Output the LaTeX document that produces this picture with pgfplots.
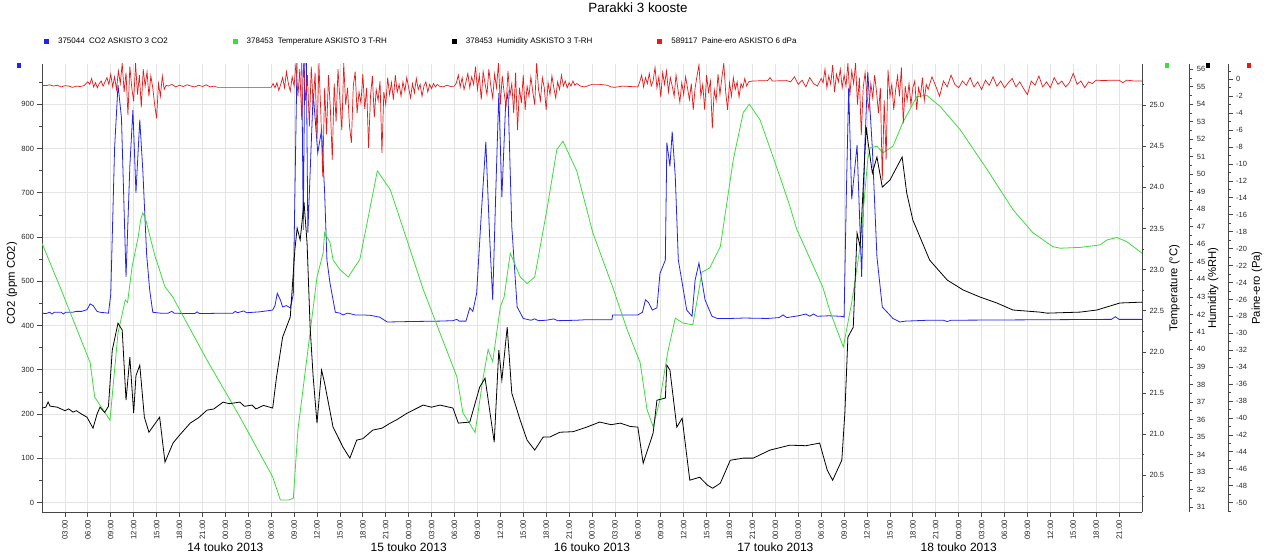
\documentclass[border=0pt]{standalone}
\usepackage{fontspec}
\setmainfont{Liberation Sans}
\usepackage{pgfplots}
\pgfplotsset{compat=1.18}
\definecolor{co2col}{RGB}{35,35,235}
\definecolor{tcol}{RGB}{60,220,60}
\definecolor{hcol}{RGB}{0,0,0}
\definecolor{pcol}{RGB}{232,25,25}
\definecolor{gridc}{RGB}{228,228,228}
\definecolor{axc}{RGB}{70,70,70}
\newcommand\tickfont{\fontsize{7.5bp}{8bp}\selectfont}
\newcommand\xtickfont{\fontsize{7.8bp}{8bp}\selectfont}
\newcommand\labfont{\fontsize{11.3bp}{13bp}\selectfont}
\newcommand\datefont{\fontsize{12bp}{14bp}\selectfont}
\newcommand\titlefont{\fontsize{13.4bp}{15bp}\selectfont}
\newcommand\legfont{\fontsize{8bp}{9bp}\selectfont}
\pgfplotsset{
  base/.style={scale only axis, width=1100bp, height=448bp, at={(0,0)}, anchor=south west, xmin=0, xmax=144,
    /pgf/number format/assume math mode=true},
  ryax/.style={axis line style={axc,-,line width=0.8bp}, tick align=outside, major tick length=4bp, minor tick length=2.4bp,
    tick style={axc,line width=0.7bp}, yticklabel style={font=\tickfont, text=black!85}},
}
\begin{document}
\begin{tikzpicture}
% ---------------- CO2 (main axis) ----------------
\begin{axis}[base, ymin=-21.3, ymax=991, clip mode=individual,
  axis x line*=bottom, axis y line*=left, axis line style={axc,-,line width=0.8bp},
  xtick={3,6,...,141},
  xticklabels={03:00,06:00,09:00,12:00,15:00,18:00,21:00,00:00,03:00,06:00,09:00,12:00,15:00,18:00,21:00,00:00,03:00,06:00,09:00,12:00,15:00,18:00,21:00,00:00,03:00,06:00,09:00,12:00,15:00,18:00,21:00,00:00,03:00,06:00,09:00,12:00,15:00,18:00,21:00,00:00,03:00,06:00,09:00,12:00,15:00,18:00,21:00},
  xticklabel style={rotate=90, anchor=east, font=\xtickfont, text=black!85},
  ytick={0,100,200,300,400,500,600,700,800,900},
  minor ytick={50,150,250,350,450,550,650,750,850,950},
  tick align=outside, major tick length=4.5bp, minor tick length=2.5bp,
  tick style={axc,line width=0.7bp},
  yticklabel style={font=\tickfont, text=black!85},
  xmajorgrids, ymajorgrids, grid style={gridc,line width=0.8bp},
  ylabel={CO2 (ppm CO2)}, ylabel style={at={(axis description cs:-0.0273,0.511)}, anchor=center, font=\labfont},
  title={Parakki 3 kooste}, title style={at={(axis description cs:0.5418,1.1016)}, anchor=base, font=\titlefont},
  legend columns=4,
  legend style={at={(axis description cs:0.0018,1.0513)}, anchor=west, draw=none, fill=none,
    inner xsep=0pt, inner ysep=0pt, font=\legfont, nodes={inner sep=0pt},
    /tikz/every odd column/.append style={column sep=9.5bp},
    /tikz/every even column/.append style={column sep=65bp}},
]
\addplot[co2col, line width=0.8bp, forget plot] coordinates {
(0,428)(0.5,427)(1,430)(1.3,426)(1.6,430)(2.5,430)(2.8,426)(3.1,430)(4,430)(4.5,432)(5.2,432)(5.9,436)(6.3,449)(6.7,445)(7.2,432)(7.6,430)(8.2,429)(8.7,428)
(9.0,470)(9.5,800)(9.95,944)(10.4,870)(11.0,510)(11.5,760)(11.9,887)(12.3,700)(12.8,865)(13.2,750)(13.7,560)(14.1,480)(14.5,430)
(15.5,428)(16.5,428)(17,432)(17.3,428)(19,427)(20,427)(20.3,431)(20.6,427)(24,428)(25,428)(25.3,432)(25.6,429)(26.4,433)(26.8,429)(28.5,431)
(30.2,435)(30.5,445)(30.8,473)(31.2,458)(31.5,442)(32.0,445)(32.5,440)(32.9,470)(33.2,800)(33.4,1010)(34.0,1010)(34.2,616)(34.4,1010)(34.6,1010)(34.8,610)
(35.5,925)(36.1,790)(36.6,842)(37.0,700)(37.3,548)(37.7,496)(38.4,430)(39.0,428)(39.4,424)(40,428)(41,424)(42,424)(43,423)(44.2,419)(45.2,408)(48,409)(52,410)
(53.8,411)(54.3,414)(54.6,410)(55.5,410)(56.0,440)(56.4,432)(56.9,473)(57.5,650)(58.1,815)(58.6,600)(59.0,458)(59.4,700)(59.8,925)(60.2,690)(60.7,903)(61.0,925)
(61.5,623)(62.2,442)(63.0,416)(64,412)(64.5,415)(65,411)(66,412)(67,415)(67.5,411)(70,412)(71,413)(74.6,413)(74.7,424)(78,424)(78.6,430)(79.0,458)(79.4,452)
(79.9,435)(80.5,440)(80.9,518)(81.6,548)(81.8,813)(82.2,760)(82.5,838)(82.9,737)(83.3,548)(84.4,435)(85.1,421)(85.5,503)(86.0,541)(86.4,500)(86.8,458)(87.7,421)
(88.4,416)(90,416)(92,417)(95,416)(96.5,418)(97,424)(97.5,418)(99,422)(100,426)(100.5,421)(101,426)(101.5,421)(103,422)(104.5,421)(104.9,420)(105.0,419)
(105.3,700)(105.6,937)(106.0,685)(106.7,808)(107.3,510)(107.7,800)(108.1,973)(108.7,800)(109.3,555)(110.0,442)(111.4,416)(112.3,408)(113,410)(116,412)
(118,412)(118.5,409)(119,412)(130,413)(140,414)(140.5,420)(141,414)(144,414)
};
\addlegendimage{legend image code/.code={\fill[co2col] (0bp,-2.2bp) rectangle (4bp,2.2bp);}}
\addlegendentry{375044\ \ CO2 ASKISTO 3 CO2}
\addlegendimage{legend image code/.code={\fill[tcol] (0bp,-2.2bp) rectangle (4bp,2.2bp);}}
\addlegendentry{378453\ \ Temperature ASKISTO 3 T-RH}
\addlegendimage{legend image code/.code={\fill[hcol] (0bp,-2.2bp) rectangle (4bp,2.2bp);}}
\addlegendentry{378453\ \ Humidity ASKISTO 3 T-RH}
\addlegendimage{legend image code/.code={\fill[pcol] (0bp,-2.2bp) rectangle (4bp,2.2bp);}}
\addlegendentry{589117\ \ Paine-ero ASKISTO 6 dPa}
\node[anchor=base, font=\datefont] at ([yshift=-39.7bp]axis cs:24,-21.3) {14 touko 2013};
\node[anchor=base, font=\datefont] at ([yshift=-39.7bp]axis cs:48,-21.3) {15 touko 2013};
\node[anchor=base, font=\datefont] at ([yshift=-39.7bp]axis cs:72,-21.3) {16 touko 2013};
\node[anchor=base, font=\datefont] at ([yshift=-39.7bp]axis cs:96,-21.3) {17 touko 2013};
\node[anchor=base, font=\datefont] at ([yshift=-39.7bp]axis cs:120,-21.3) {18 touko 2013};
\end{axis}
% ---------------- Temperature ----------------
\begin{axis}[base, ryax, ymin=20.054, ymax=25.499,
  hide x axis, axis y line*=right,
  ytick={20.5,21.0,21.5,22.0,22.5,23.0,23.5,24.0,24.5,25.0,25.5},
  minor ytick={20.25,20.75,21.25,21.75,22.25,22.75,23.25,23.75,24.25,24.75,25.25},
  yticklabel style={/pgf/number format/fixed, /pgf/number format/fixed zerofill, /pgf/number format/precision=1},
  ylabel={Temperature (°C)}, ylabel style={at={(axis description cs:1.0294,0.5)}, anchor=center, font=\labfont}]
\addplot[tcol, line width=0.8bp] coordinates {
(0,23.32)(2.4,22.78)(6.3,21.87)(6.9,21.45)(8.9,21.17)(9.95,22.23)(10.9,22.63)(11.2,22.60)(11.8,23.04)(12.6,23.40)(12.9,23.60)(13.2,23.69)(13.6,23.60)
(14.8,23.16)(15.2,23.05)(16.1,22.79)(17.1,22.67)(21.6,21.90)(25.9,21.21)(30.2,20.48)(31.2,20.20)(32.3,20.20)(32.9,20.22)(33.5,21.05)(34.7,21.94)(36.0,22.91)
(36.8,23.20)(37.0,23.45)(37.7,23.33)(38.1,23.12)(39.0,23.00)(40.1,22.91)(41.0,23.04)(41.6,23.12)(43.9,24.20)(45.6,23.97)(48.2,23.24)(49.9,22.76)(52.1,22.23)
(54.3,21.70)(55.1,21.26)(56.7,21.02)(57.7,21.66)(58.4,22.03)(59.0,21.88)(60.0,22.55)(60.5,22.67)(61.3,23.20)(62.6,22.91)(63.5,22.83)(64.5,22.91)(66.1,23.73)
(67.4,24.46)(68.2,24.56)(70.0,24.20)(72.1,23.45)(74.7,22.79)(76.6,22.27)(78.3,21.87)(79.2,21.30)(80.0,21.09)(80.9,21.42)(81.9,21.99)(82.9,22.41)(83.9,22.35)
(85.2,22.33)(86.4,22.97)(87.4,23.02)(88.8,23.28)(90.5,24.34)(91.8,24.91)(92.6,25.01)(94.0,24.82)(95.7,24.37)(96.6,24.13)(97.9,23.77)(98.8,23.49)(102.2,22.79)
(103.2,22.48)(104.9,22.06)(106.0,22.60)(107.1,23.28)(108.1,24.34)(108.4,24.48)(109.3,24.50)(110.1,24.42)(111.4,24.50)(112.7,24.79)(114.5,25.10)(115.8,25.12)
(117.6,24.98)(120.2,24.70)(123.7,24.22)(127.1,23.73)(129.7,23.45)(132.3,23.28)(133.3,23.26)(135.9,23.27)(138.5,23.30)(139.4,23.36)(140.7,23.39)(142.0,23.34)(144.0,23.20)
};
\end{axis}
% ---------------- Humidity data ----------------
\begin{axis}[base, hide axis, ymin=30.714, ymax=56.30]
\addplot[hcol, line width=0.8bp] coordinates {
(0,36.65)(0.5,36.7)(0.8,37.0)(1.05,36.76)(2,36.7)(3,36.5)(3.5,36.6)(4.06,36.42)(4.5,36.5)(5.2,36.3)(5.89,36.13)(6.3,35.8)(6.68,35.5)(7.2,36.3)(7.59,36.7)(8.2,36.4)(8.7,36.75)
(9.2,39.96)(9.95,41.50)(10.5,41.10)(11.0,37.10)(11.5,39.56)(12.0,36.36)(12.3,38.5)(12.8,39.10)(13.4,36.13)(14.0,35.27)(15.4,36.13)(16.1,33.56)(17.15,34.65)
(18,35.1)(19.4,35.79)(20.5,36.1)(21.6,36.53)(22.5,36.6)(23.7,36.99)(24.5,36.9)(25.9,36.99)(26.5,36.75)(27.5,36.82)(28,36.6)(29,36.8)(30.2,36.65)
(30.7,38.42)(31.5,40.70)(32.5,41.85)(33.1,45.67)(33.4,46.93)(33.8,46.25)(34.3,48.42)(34.7,46.07)(35.1,41.27)(35.5,38.42)(36.0,35.79)(36.6,38.82)(37.0,38.07)
(38.1,35.56)(39.4,34.42)(40.3,33.79)(41.2,34.82)(42,34.9)(43.3,35.39)(44.5,35.5)(45.6,35.79)(46.5,36.0)(47.8,36.36)(49.9,36.82)(51,36.7)(52.1,36.82)(53.8,36.65)
(54.5,35.79)(56.0,35.85)(57.3,37.85)(58.0,38.36)(59.2,34.70)(59.8,39.96)(60.2,38.25)(60.9,41.27)(61.5,37.50)(62.6,35.96)(63.5,34.82)(64.5,34.25)(65.6,34.99)
(66.5,35.0)(67.8,35.27)(69.5,35.3)(71.3,35.56)(73.0,35.85)(74.5,35.7)(75.7,35.79)(77,35.6)(78.0,35.56)(78.7,33.50)(80.0,35.22)(80.5,37.10)(81.6,37.22)
(81.8,39.10)(82.2,38.82)(83.1,35.56)(83.8,36.07)(84.8,32.53)(86.1,32.70)(87.1,32.25)(87.8,32.07)(88.8,32.36)(90.1,33.67)(91.8,33.79)(93.1,33.79)(95.3,34.25)
(97.9,34.53)(100,34.5)(101.8,34.65)(102.8,33.10)(103.5,32.53)(104.7,33.67)(105.1,36.36)(105.5,40.70)(106.2,41.27)(106.7,46.65)(107.1,45.85)(107.9,52.70)
(108.1,51.96)(108.7,50.07)(109.3,50.99)(110.0,49.27)(111.0,49.67)(112.6,50.99)(113.2,48.93)(114.0,47.39)(116.2,45.10)(118.5,43.96)(120.6,43.39)(122.8,42.99)
(125.0,42.65)(127.1,42.25)(130.6,42.13)(131.6,42.07)(135.9,42.13)(138.1,42.25)(141.1,42.65)(144.0,42.70)
};
\end{axis}
% ---------------- Pressure data ----------------
\begin{axis}[base, hide axis, ymin=-51.11, ymax=1.81]
\addplot[pcol, line width=0.7bp] coordinates {
(0,-0.7)(0.5,-0.75)(1,-0.65)(1.5,-0.8)(2,-0.7)(2.5,-0.9)(3,-0.75)(3.5,-0.8)(4,-0.95)(4.5,-0.8)(5,-0.85)(5.5,-0.75)
(6,-0.3)(6.25,-0.6)(6.5,0.1)(6.75,-0.9)(7,-0.4)(7.25,-1.0)(7.5,-0.5)(7.75,-0.2)(8,-0.8)(8.25,-0.3)(8.5,0.2)
(8.75,-0.6)(9,0.6)(9.25,-0.9)(9.5,0.3)(9.75,-1.2)(10,1.0)(10.25,-0.5)(10.5,1.9)(10.75,-1.5)(11,0.8)(11.25,-4.2)(11.5,1.5)(11.75,-1.0)(12,-2.6)(12.25,1.9)
(12.5,-1.8)(12.75,0.5)(13,-3.3)(13.25,1.2)(13.5,-0.8)(13.75,0.9)(14,-2.0)(14.25,0.4)(14.5,-1.0)(14.75,-3.0)(15,-4.6)(15.25,-0.5)(15.5,-2.0)(15.75,0.4)(16,-1.2)(16.25,-0.7)
(16.5,-0.8)(17,-0.6)(17.5,-0.9)(18,-0.7)(18.5,-0.85)(19,-0.65)(19.5,-0.8)(20,-0.9)(20.5,-0.7)(21,-0.85)(21.5,-0.65)(22,-0.9)(22.5,-0.8)(23,-0.95)(30,-0.95)
(30.25,-0.5)(30.5,-1.0)(30.75,-0.4)(31,-1.3)(31.25,-0.6)(31.5,0.2)(31.75,-1.0)(32,0.9)(32.25,-0.5)(32.5,-1.4)(32.75,0.3)(33,-0.8)(33.25,1.9)(33.5,-2.0)
(33.75,1.2)(34,-4.8)(34.25,1.9)(34.5,-2.5)(34.75,0.5)(35,-5.6)(35.25,1.5)(35.5,-3.0)(35.75,0.8)(36,-7.0)(36.25,1.9)(36.5,-4.0)(36.75,-11.5)(37,-1.0)
(37.25,-6.5)(37.5,0.5)(37.75,-3.5)(38,-9.5)(38.25,-0.5)(38.5,-5.0)(38.75,1.2)(39,-2.5)(39.25,-6.0)(39.5,1.9)(39.75,-3.0)(40,-1.0)(40.25,-5.5)(40.5,-7.5)
(40.75,-0.8)(41,0.9)(41.25,-4.0)(41.5,-1.5)(41.75,-2.8)(42,0.6)(42.25,-3.5)(42.5,-1.0)(42.75,-8.1)(43,-2.0)(43.25,0.4)(43.5,-4.5)(43.75,-1.2)(44,-2.5)
(44.25,-0.2)(44.5,-8.7)(44.75,-1.5)(45,-3.0)(45.25,0.2)(45.5,-1.8)(45.75,-0.4)(46,-2.4)(46.25,0.5)(46.5,-1.5)(46.75,-0.6)(47,-2.0)(47.25,-0.3)(47.5,-1.4)
(47.75,0.2)(48,-1.0)(48.25,-2.2)(48.5,-0.5)(48.75,-1.6)(49,0.1)(49.25,-1.2)(49.5,-0.6)(49.75,-2.0)(50,-0.8)(50.25,-0.3)(50.5,-1.5)(50.75,-0.6)(51,-1.1)
(51.25,-0.5)(51.5,-0.9)(51.75,-0.6)(52,-0.8)(52.5,-0.9)(53,-0.7)(53.5,-0.85)(54,-0.8)
(54.25,-0.4)(54.5,0.5)(54.75,-0.9)(55,0.2)(55.25,-1.2)(55.5,-0.3)(55.75,0.7)(56,-1.0)(56.25,0.3)(56.5,-0.6)(56.75,1.5)(57,-1.2)(57.25,0.5)(57.5,-2.4)
(57.75,0.9)(58,-0.5)(58.25,-1.8)(58.5,1.2)(58.75,-0.8)(59,-2.2)(59.25,0.6)(59.5,-1.0)(59.75,1.9)(60,-3.0)(60.25,0.4)(60.5,-1.6)(60.75,-3.3)(61,1.0)
(61.25,-2.0)(61.5,-0.5)(61.75,-4.0)(62,0.8)(62.25,-6.0)(62.5,-1.0)(62.75,-2.8)(63,0.5)(63.25,-3.6)(63.5,-0.8)(63.75,-2.0)(64,0.3)(64.25,-1.5)(64.5,-3.0)
(64.75,1.9)(65,-1.2)(65.25,-2.5)(65.5,0.2)(65.75,-1.0)(66,-3.6)(66.25,-0.4)(66.5,-1.8)(66.75,0.4)(67,-1.0)(67.25,-2.2)(67.5,-0.3)(67.75,-1.2)(68,0.5)
(68.25,-0.8)(68.5,-0.2)(68.75,-1.0)(69,-0.4)(69.25,-0.8)(69.5,-0.2)(69.75,-0.7)(70,-0.5)(70.5,-0.8)
(71,-0.9)(72,-0.6)(73,-0.6)(74,-0.7)(74.5,-0.9)(75,-0.95)(76,-0.8)(77,-0.85)(78,-0.9)
(78.25,-0.3)(78.5,0.5)(78.75,-0.9)(79,0.2)(79.25,-0.5)(79.5,0.7)(79.75,-0.8)(80,-0.2)(80.25,1.4)(80.5,-1.0)(80.75,0.3)(81,-2.1)(81.25,0.8)(81.5,-0.6)
(81.75,1.0)(82,-1.5)(82.25,0.2)(82.5,-0.8)(82.75,-2.0)(83,0.5)(83.25,-1.2)(83.5,-2.7)(83.75,-0.4)(84,-1.8)(84.25,0.3)(84.5,-1.0)(84.75,-2.4)(85,-0.5)
(85.25,-3.6)(85.5,-1.0)(85.75,0.4)(86,1.7)(86.25,-2.0)(86.5,-0.6)(86.75,-3.6)(87,0.5)(87.25,-1.5)(87.5,-0.2)(87.75,-5.8)(88,-1.2)(88.25,-2.5)(88.5,0.6)
(88.75,-1.8)(89,0.2)(89.25,1.9)(89.5,-1.5)(89.75,-3.6)(90,-0.4)(90.25,-2.0)(90.5,0.2)(90.75,-1.2)(91,-0.3)(91.25,-2.1)(91.5,-0.5)(91.75,-1.0)(92,0.1)
(92.25,-0.8)(92.5,-0.3)(93,-0.2)(95,-0.15)(95.3,0.2)(95.6,-0.2)(97.5,-0.15)
(98,-0.3)(98.5,0.3)(99,-0.6)(99.5,-0.1)(100,-0.9)(100.5,0.2)(101,-0.5)(101.5,-0.8)(102,0.1)(102.25,-0.4)(102.5,1.2)(102.75,-1.0)(103,0.4)(103.25,-0.6)
(103.5,1.7)(103.75,-1.5)(104,0.6)(104.25,-0.3)(104.5,1.2)(104.75,-1.0)(105,0.5)(105.25,-0.8)(105.5,1.9)(105.75,-2.0)(106,1.0)(106.25,-0.5)(106.5,1.9)
(106.75,-3.0)(107,0.2)(107.25,-6.6)(107.5,-1.0)(107.75,0.8)(108,-2.0)(108.25,-3.6)(108.5,-0.5)(108.75,-2.2)(109,0.5)(109.25,-1.5)(109.5,-4.0)(109.75,-1.0)
(110,-11.9)(110.25,-2.5)(110.5,-9.5)(110.75,1.1)(111,-2.0)(111.25,-0.6)(111.5,-3.6)(111.75,-1.2)(112,0.4)(112.25,-2.0)(112.5,1.4)(112.75,-5.2)(113,-0.8)
(113.25,-2.5)(113.5,-0.5)(113.75,-3.0)(114,-1.0)(114.25,-0.2)(114.5,-3.6)(114.75,-1.0)(115,-2.0)(115.25,0.2)(115.5,-2.5)(115.75,-0.6)(116,-1.2)(116.5,0.3)
(117,-0.8)(117.5,-2.0)(118,-0.2)(118.5,-0.9)(119,0.5)(119.5,-0.6)(120,-1.0)(120.5,-0.2)(121,-0.7)(121.5,0.2)(122,-0.9)(122.5,-0.3)(123,-1.2)(123.5,-0.1)
(124,-0.7)(124.5,0.3)(125,-0.8)(125.5,-0.2)(126,-1.0)(126.5,-0.4)(127,0.1)(127.5,-0.9)(128,-0.3)(128.5,-1.1)(129,-1.8)(129.5,-0.2)(130,-0.7)(130.5,0.4)
(131,-0.9)(131.5,-0.3)(132,-1.0)(132.5,0.2)(133,-0.6)(133.5,-0.2)(134,-0.9)(134.5,-0.4)(135,0.7)(135.5,-0.6)(136,-0.2)(136.5,-1.0)(137,-0.3)(137.5,-0.5)
(138,-0.1)(139,-0.15)(140,-0.1)(141,-0.1)(141.5,-0.4)(142,-0.1)(143,-0.2)(144,-0.2)
};
\end{axis}
% ---------------- Humidity axis ----------------
\begin{axis}[ryax, scale only axis, width=1bp, height=448bp, at={(1146.3bp,0)}, anchor=south west,
  xmin=0, xmax=1, ymin=30.714, ymax=56.30, hide x axis, axis y line*=right,
  /pgf/number format/assume math mode=true,
  ytick={31,32,...,56}, minor ytick={31.5,32.5,...,55.5},
  ylabel={Humidity (\%RH)}, ylabel style={at={(axis description cs:25.0,0.5)}, anchor=center, font=\labfont}]
\end{axis}
% ---------------- Pressure axis ----------------
\begin{axis}[ryax, scale only axis, width=1bp, height=448bp, at={(1185.7bp,0)}, anchor=south west,
  xmin=0, xmax=1, ymin=-51.11, ymax=1.81, hide x axis, axis y line*=right,
  /pgf/number format/assume math mode=true,
  ytick={-50,-48,...,0}, minor ytick={-51,-49,...,1},
  ylabel={Paine-ero (Pa)}, ylabel style={at={(axis description cs:29.3,0.5)}, anchor=center, font=\labfont}]
\end{axis}
% small markers on top of the axes
\fill[co2col] (-25bp,444bp) rectangle (-21bp,448.5bp);
\fill[tcol] (1123bp,444bp) rectangle (1127bp,448.5bp);
\fill[hcol] (1164bp,444bp) rectangle (1168bp,448.5bp);
\fill[pcol] (1205bp,444bp) rectangle (1209bp,448.5bp);
\pgfresetboundingbox
\path[use as bounding box] (-42bp,-47bp) rectangle (1226bp,512bp);
\end{tikzpicture}
\end{document}
